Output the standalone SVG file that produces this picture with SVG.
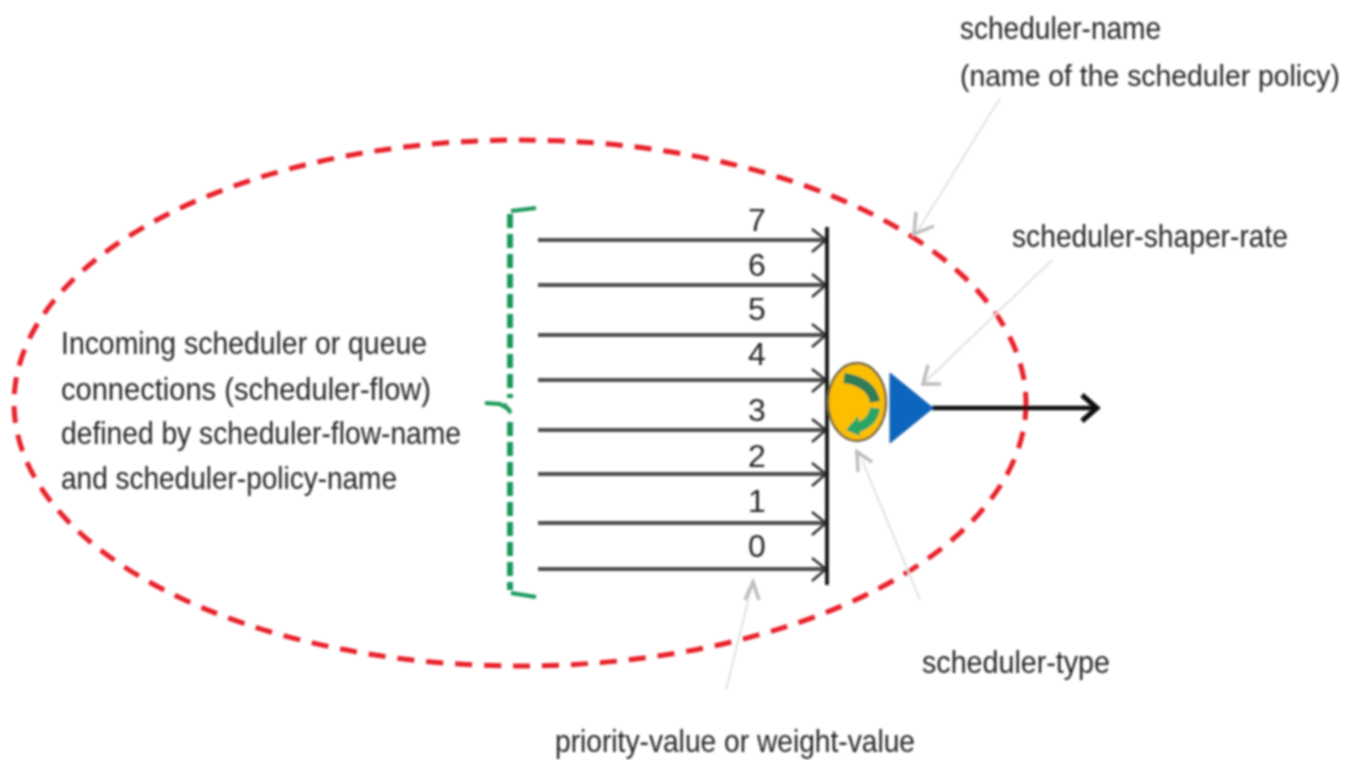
<svg xmlns="http://www.w3.org/2000/svg" width="1351" height="760" viewBox="0 0 1351 760">
<style>
text{font-family:"Liberation Sans",Arial,sans-serif;font-size:32px;fill:#262626}
.tight{font-size:29px}
.flow{stroke:#505050;stroke-width:4;fill:none}
.ah{stroke:#333;stroke-width:2.5;fill:none}
.call{stroke:#e2e2e2;stroke-width:2;fill:none}
.callh{stroke:#bdbdbd;stroke-width:3.5;fill:none}
</style>
<defs><filter id="soft" x="-5%" y="-5%" width="110%" height="110%"><feGaussianBlur stdDeviation="0.9"/></filter></defs>
<rect width="1351" height="760" fill="#fff"/>
<g filter="url(#soft)">
<g id="scope"><ellipse cx="520" cy="403" rx="506" ry="263" fill="none" stroke="#e8202c" stroke-width="5" stroke-dasharray="17 12"/></g>
<g id="bracket" fill="none" stroke="#1f9a5c">
<path d="M510 214V398M510 422V590" stroke-dasharray="14 6" stroke-width="6"/>
<path d="M511 211 L536 208M510 410 L500 404 L485 403M504 404 L511 413M511 593 L536 597" stroke-width="4"/>
</g>
<g id="connectors">
<path class="flow" d="M538 240H826M538 285H826M538 335H826M538 380H826M538 430H826M538 474H826M538 523H826M538 569H826"/>
<path class="ah" d="M812 229L826 240L812 252M812 274L826 285L812 297M812 324L826 335L812 347M812 369L826 380L812 392M812 419L826 430L812 442M812 463L826 474L812 486M812 512L826 523L812 535M812 558L826 569L812 581"/>
<path d="M827 227V585" stroke="#1a1a1a" stroke-width="4" fill="none"/>
<path d="M932 408H1096" stroke="#111" stroke-width="4.5" fill="none"/>
<path d="M1082 395L1097 408L1082 421" stroke="#111" stroke-width="5" fill="none"/>
<path class="call" d="M1000 98L917 232M1052 260L925 382M920 600L862 460M726 690L752 585"/>
<path class="callh" d="M916 212L914 234L934 226M928 365L923 384L941 384M858 472L857 452L872 462M745 600L753 582L759 600"/>
</g>
<g id="scheduler">
<ellipse cx="857" cy="402" rx="29" ry="39" fill="#fbbf05" stroke="#7a6a40" stroke-width="2.5"/>
<path d="M844 378C860 380 873 388 875 402" stroke="#2d7d55" stroke-width="10" fill="none"/>
<path d="M875 408C874 418 866 427 852 428" stroke="#2aa565" stroke-width="10" fill="none"/>
<path d="M846 430L858 416L860 436Z" fill="#2aa565"/>
</g>
<g id="shaper"><path d="M890 373L933 408L890 443Z" fill="#0b66bd" stroke="#0b5aa8" stroke-width="1"/></g>
<g id="labels">
<text x="748" y="231">7</text>
<text x="748" y="276">6</text>
<text x="748" y="320">5</text>
<text x="748" y="365">4</text>
<text x="748" y="421">3</text>
<text x="748" y="467">2</text>
<text x="748" y="512">1</text>
<text x="748" y="557">0</text>
<text x="960" y="39" textLength="201" lengthAdjust="spacingAndGlyphs">scheduler-name</text>
<text class="tight" x="960" y="86" textLength="380" lengthAdjust="spacingAndGlyphs">(name of the scheduler policy)</text>
<text x="1012" y="247" textLength="276" lengthAdjust="spacingAndGlyphs">scheduler-shaper-rate</text>
<text x="61" y="354" textLength="366" lengthAdjust="spacingAndGlyphs">Incoming scheduler or queue</text>
<text x="61" y="400" textLength="370" lengthAdjust="spacingAndGlyphs">connections  (scheduler-flow)</text>
<text x="61" y="444" textLength="400" lengthAdjust="spacingAndGlyphs">defined by scheduler-flow-name</text>
<text x="61" y="489" textLength="336" lengthAdjust="spacingAndGlyphs">and scheduler-policy-name</text>
<text x="922" y="673" textLength="188" lengthAdjust="spacingAndGlyphs">scheduler-type</text>
<text x="555" y="752" textLength="360" lengthAdjust="spacingAndGlyphs">priority-value or weight-value</text>
</g>
</g>
</svg>
